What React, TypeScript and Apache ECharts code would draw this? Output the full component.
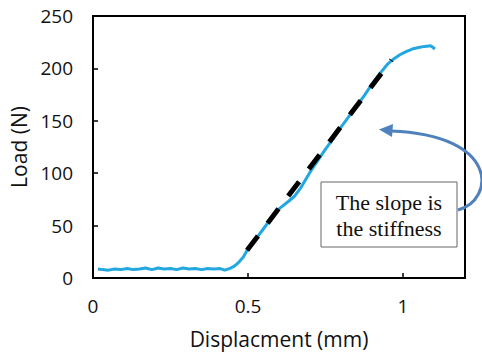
import React, { useEffect, useRef } from "react";
import * as echarts from "echarts";

// Measured load–displacement curve
const dispX = [
  0.016, 0.03, 0.05, 0.07, 0.09, 0.11, 0.13, 0.15, 0.17, 0.19, 0.21, 0.23, 0.25,
  0.27, 0.29, 0.31, 0.33, 0.35, 0.37, 0.39, 0.41, 0.425, 0.44, 0.455, 0.47, 0.485,
  0.5, 0.525, 0.55, 0.575, 0.6, 0.63, 0.65, 0.67, 0.7, 0.725, 0.75, 0.775, 0.8,
  0.825, 0.85, 0.875, 0.9, 0.925, 0.95, 0.97, 0.99, 1.01, 1.03, 1.05, 1.07, 1.09, 1.103,
];
const loadY = [
  8.5, 8, 7.5, 8.5, 8, 9, 8, 8.5, 9.5, 8, 9.5, 8.5, 9, 8, 9.5, 8.5, 9, 8, 9, 8.5,
  9, 7.5, 9, 11, 15, 20, 28, 37, 47, 57, 66, 73, 78, 86, 101, 112, 123, 133, 144,
  154, 164, 174, 185, 195, 204, 209, 213, 216, 218.5, 220, 221, 221.5, 218.5,
];

// Linear fit (stiffness) line
const fitX = [0.497, 0.963];
const fitY = [26.5, 208];

const xTicks = [0, 0.5, 1];
const yTicks = [0, 50, 100, 150, 200, 250];

const noteLines = ["The slope is", "the stiffness"];

export default function App() {
  const ref = useRef<HTMLDivElement>(null);
  useEffect(() => {
    if (!ref.current) return;
    const chart = echarts.init(ref.current, undefined, { renderer: "svg" });
    const font = "'Open Sans', sans-serif";
    const serif = "'Liberation Serif', 'Times New Roman', serif";
    chart.setOption({
      animation: false,
      backgroundColor: "#fff",
      grid: {
        left: 93,
        top: 16,
        right: 17,
        bottom: 74,
        show: true,
        borderColor: "#000",
        borderWidth: 2,
      },
      xAxis: {
        type: "value",
        min: 0,
        max: 1.2,
        interval: 0.5,
        name: "Displacment (mm)",
        nameLocation: "middle",
        nameGap: 50,
        nameTextStyle: { fontFamily: font, fontSize: 21, color: "#111" },
        axisLine: { lineStyle: { color: "#000", width: 2 } },
        axisTick: { inside: true, length: 5, lineStyle: { color: "#000", width: 1.5 } },
        axisLabel: {
          fontFamily: font,
          fontSize: 19,
          color: "#111",
          margin: 18,
          formatter: (v: number) => (xTicks.some((t) => Math.abs(t - v) < 1e-6) ? String(v) : ""),
        },
        splitLine: { show: false },
      },
      yAxis: {
        type: "value",
        min: 0,
        max: 250,
        interval: 50,
        name: "Load (N)",
        nameLocation: "middle",
        nameGap: 63,
        nameTextStyle: { fontFamily: font, fontSize: 21, color: "#111" },
        axisLine: { show: true, lineStyle: { color: "#000", width: 2 } },
        axisTick: { show: true, inside: true, length: 5, lineStyle: { color: "#000", width: 1.5 } },
        axisLabel: {
          fontFamily: font,
          fontSize: 19,
          color: "#111",
          margin: 20,
          formatter: (v: number) => (yTicks.includes(v) ? String(v) : ""),
        },
        splitLine: { show: false },
      },
      series: [
        {
          type: "line",
          data: dispX.map((x, i) => [x, loadY[i]]),
          showSymbol: false,
          smooth: false,
          lineStyle: { color: "#22A7E0", width: 3 },
          z: 2,
        },
        {
          type: "line",
          data: fitX.map((x, i) => [x, fitY[i]]),
          showSymbol: false,
          lineStyle: { color: "#000", width: 5, type: [18, 16], cap: "butt" },
          z: 3,
        },
      ],
      graphic: [
        {
          type: "rect",
          shape: { x: 321, y: 182, width: 136, height: 65 },
          style: { fill: "#fff", stroke: "#666", lineWidth: 1 },
          z: 10,
        },
        {
          type: "text",
          x: 389,
          y: 202,
          style: {
            text: noteLines[0],
            fontFamily: serif,
            fontSize: 22,
            fill: "#111",
            align: "center",
            verticalAlign: "middle",
          },
          z: 11,
        },
        {
          type: "text",
          x: 389,
          y: 228,
          style: {
            text: noteLines[1],
            fontFamily: serif,
            fontSize: 22,
            fill: "#111",
            align: "center",
            verticalAlign: "middle",
          },
          z: 11,
        },
        {
          type: "bezierCurve",
          shape: { x1: 458, y1: 210, cpx1: 495, cpy1: 200, cpx2: 500, cpy2: 135, x2: 391, y2: 131 },
          style: { stroke: "#4F81BD", lineWidth: 3, fill: "none" },
          z: 12,
        },
        {
          type: "polygon",
          shape: { points: [[379, 129.5], [393, 124], [392, 137]] },
          style: { fill: "#4F81BD" },
          z: 12,
        },
      ],
    });
    return () => chart.dispose();
  }, []);
  return (
    <div
      ref={ref}
      style={{ position: "fixed", left: 0, top: 0, width: 482, height: 354 }}
    />
  );
}
